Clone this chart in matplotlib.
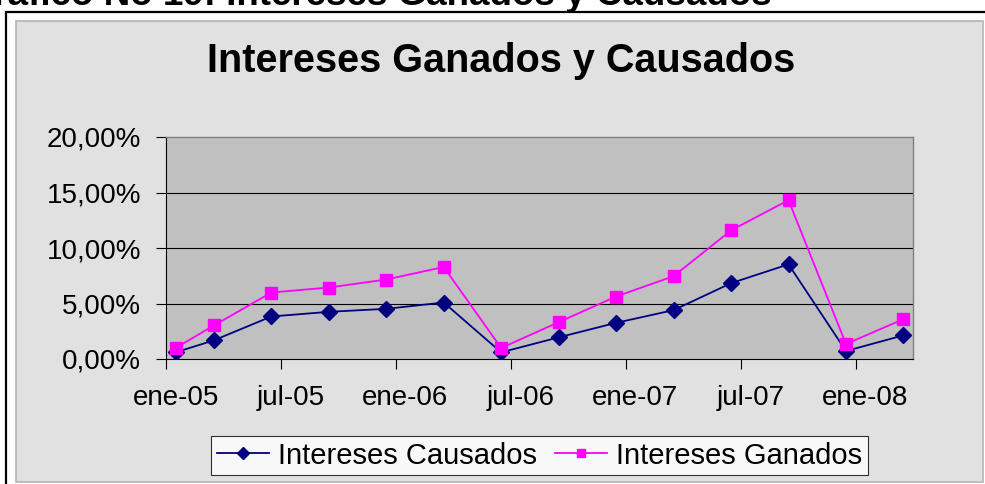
import matplotlib
matplotlib.use('Agg')
import matplotlib.pyplot as plt
import matplotlib.patches as mpatches
import matplotlib.ticker as mticker
import pandas as pd
import numpy as np

# datos (porcentajes)
fechas = ['2005-01', '2005-03', '2005-06', '2005-09', '2005-12', '2006-03', '2006-06',
          '2006-09', '2006-12', '2007-03', '2007-06', '2007-09', '2007-12', '2008-03']
causados = [0.60, 1.68, 3.83, 4.25, 4.52, 5.09, 0.60, 1.95, 3.26, 4.40, 6.83, 8.53, 0.72, 2.13]
ganados = [0.99, 3.02, 5.99, 6.44, 7.16, 8.29, 0.99, 3.32, 5.63, 7.46, 11.59, 14.31, 1.35, 3.59]
etiquetas_x = ['ene-05', 'jul-05', 'ene-06', 'jul-06', 'ene-07', 'jul-07', 'ene-08']
ticks_y = [0, 5, 10, 15, 20]

plt.rcParams['font.family'] = ['Liberation Sans', 'DejaVu Sans']

W, H = 985, 484
def fx(px):
    return px / W
def fy(py):
    return 1 - py / H

fig = plt.figure(figsize=(W / 100, H / 100), dpi=100)
fig.patch.set_facecolor('white')

# marco exterior negro y area del grafico
fig.patches.append(mpatches.Rectangle((fx(6), fy(500)), fx(1000) - fx(6), fy(12) - fy(500),
                                      transform=fig.transFigure, facecolor='white',
                                      edgecolor='black', linewidth=1.6, zorder=-3))
fig.patches.append(mpatches.Rectangle((fx(16), fy(482)), fx(983) - fx(16), fy(21) - fy(482),
                                      transform=fig.transFigure, facecolor='#e1e1e1',
                                      edgecolor='#b4b4b4', linewidth=1.2, zorder=-2))

# titulo cortado arriba
fig.text(fx(772), fy(5), 'Gráfico No 19: Intereses Ganados y Causados', ha='right',
         va='baseline', fontsize=26.5, fontweight='bold', color='black')
fig.text(fx(501), fy(72), 'Intereses Ganados y Causados', ha='center', va='baseline',
         fontsize=28.5, fontweight='bold', color='black')

ax = fig.add_axes([fx(166), fy(359), fx(913) - fx(166), fy(137) - fy(359)])
ax.set_facecolor('#c0c0c0')

base = pd.Period('2005-01', freq='M')
mes = np.array([(pd.Period(f, freq='M') - base).n for f in fechas]) + 0.5
n_meses = (pd.Period('2008-03', freq='M') - base).n + 1

ax.plot(mes, np.array(causados) / 100, '-', color='#000080', linewidth=1.3,
        marker='D', markersize=8, label='Intereses Causados', zorder=3)
ax.plot(mes, np.array(ganados) / 100, '-', color='#ff00ff', linewidth=1.3,
        marker='s', markersize=8, label='Intereses Ganados', zorder=3)

ax.set_xlim(0, n_meses)
ax.set_ylim(0, 0.20)

ax.set_yticks([v / 100 for v in ticks_y])
ax.yaxis.set_major_formatter(mticker.FuncFormatter(lambda v, p: ('%.2f%%' % (v * 100)).replace('.', ',')))
for v in ticks_y[1:-1]:
    ax.axhline(v / 100, color='black', linewidth=0.8, zorder=2)

ax.set_xticks(np.arange(0, n_meses, 6))
ax.set_xticklabels([])
ax.set_xticks(np.arange(0, n_meses, 6) + 0.5, minor=True)
ax.set_xticklabels(etiquetas_x, minor=True)

ax.tick_params(axis='x', which='major', length=7, width=0.8, direction='out')
ax.tick_params(axis='x', which='minor', length=0, pad=19, labelsize=20)
ax.tick_params(axis='y', length=7, width=0.8, direction='out', pad=11, labelsize=20)

for s in ['top', 'right']:
    ax.spines[s].set_color('#808080')
    ax.spines[s].set_linewidth(1.0)
for s in ['left', 'bottom']:
    ax.spines[s].set_color('black')
    ax.spines[s].set_linewidth(0.8)

leg = fig.legend(loc='center', bbox_to_anchor=(fx(539.5), fy(455.5)), ncol=2, fontsize=21,
                 frameon=True, fancybox=False, handlelength=1.8, handletextpad=0.3,
                 columnspacing=0.6, borderpad=0.2, markerscale=0.8)
leg.get_frame().set_edgecolor('black')
leg.get_frame().set_linewidth(0.8)
leg.get_frame().set_facecolor('white')

fig.savefig('out.png', dpi=100)
plt.close(fig)
